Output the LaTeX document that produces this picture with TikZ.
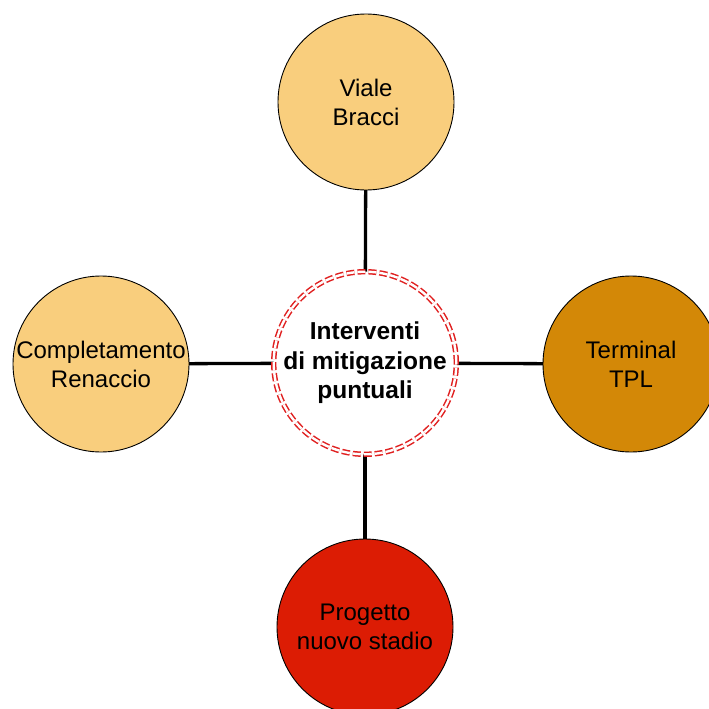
\documentclass[tikz,border=0pt]{standalone}
\usepackage{fontspec}
\setmainfont{Liberation Sans}
\definecolor{paleorange}{HTML}{F9CE7D}
\definecolor{darkorange}{HTML}{D38807}
\definecolor{hotred}{HTML}{DC1C04}
\definecolor{ringred}{HTML}{E02020}
\begin{document}
\begin{tikzpicture}[x=1pt,y=-1pt,
  bubble/.style={circle, draw=black, line width=0.9pt, minimum size=176pt,
    inner sep=0pt, align=center, font=\fontsize{24}{29}\selectfont},
  hub/.style={circle, draw=ringred, line width=1.5pt, dashed,
    dash pattern=on 8pt off 3pt, double=white, double distance=2.4pt,
    fill=white, minimum size=172pt, inner sep=0pt, align=center,
    font=\fontsize{24.5}{29.5}\selectfont\bfseries},
  spoke/.style={line width=3.3pt, black}]
\useasboundingbox (0,0) rectangle (709,709);
\fill[white] (0,0) rectangle (709,709);

\coordinate (hc) at (365,363);
\draw[spoke] (hc) -- (366,102);
\draw[spoke] (hc) -- (101,364);
\draw[spoke] (hc) -- (631,364);
\draw[spoke] (hc) -- (365,627);

\node[hub] (hub) at (hc) {Interventi\\di mitigazione\\puntuali};
\node[bubble, fill=paleorange] (viale) at (366,102) {Viale\\Bracci};
\node[bubble, fill=paleorange] (renaccio) at (101,364) {Completamento\\Renaccio};
\node[bubble, fill=darkorange] (tpl) at (631,364) {Terminal\\TPL};
\node[bubble, fill=hotred] (stadio) at (365,627) {Progetto\\nuovo stadio};
\end{tikzpicture}
\end{document}
